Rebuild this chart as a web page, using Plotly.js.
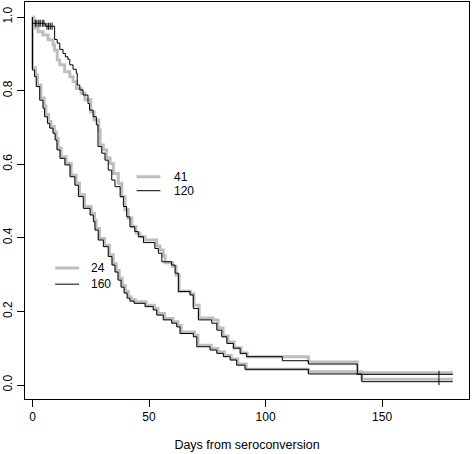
<!DOCTYPE html>
<html><head><meta charset="utf-8">
<script src="https://cdn.plot.ly/plotly-3.0.1.min.js"></script>
<style>html,body{margin:0;padding:0;background:#fff}</style>
</head><body><div id="chart" style="width:472px;height:454px"></div>
<script>
// Kaplan-Meier style step curves (days, survival)
const endTime = 180.4;

const times41 = [0.6, 2.4, 4.5, 6.7, 8.8, 9.5, 10.6, 11.7, 13.8, 16.0, 17.4, 18.8, 20.9, 22.5, 25.0, 26.4, 28.4, 29.0, 30.4, 31.8, 33.3, 34.7, 36.8, 38.3, 39.7, 41.1, 42.6, 44.4, 46.1, 48.3, 53.3, 54.7, 56.1, 56.9, 60.1, 61.6, 62.9, 67.8, 69.3, 71.5, 77.5, 79.6, 81.8, 83.9, 86.5, 89.5, 92.1, 118.4, 139.4];
const surv41 = [0.970, 0.960, 0.951, 0.938, 0.924, 0.910, 0.883, 0.870, 0.851, 0.838, 0.824, 0.806, 0.793, 0.775, 0.742, 0.720, 0.693, 0.652, 0.639, 0.617, 0.602, 0.575, 0.548, 0.512, 0.476, 0.454, 0.430, 0.413, 0.403, 0.394, 0.378, 0.367, 0.351, 0.332, 0.323, 0.299, 0.255, 0.247, 0.217, 0.182, 0.177, 0.155, 0.133, 0.117, 0.101, 0.087, 0.077, 0.0625, 0.0334];

const times120 = [0, 5.5, 9.5, 10.6, 11.7, 13.1, 14.1, 15.2, 16.0, 17.4, 18.8, 19.2, 20.3, 21.7, 23.8, 24.5, 26.0, 27.4, 28.1, 29.7, 31.1, 32.5, 34.0, 35.4, 37.6, 39.0, 40.4, 41.8, 43.9, 45.4, 47.6, 52.5, 54.0, 55.5, 59.7, 61.2, 62.6, 67.6, 69.0, 71.2, 76.9, 79.1, 81.2, 83.4, 86.2, 89.1, 91.9, 107.2, 118.4, 139.4];
const surv120 = [0.983, 0.975, 0.939, 0.929, 0.912, 0.901, 0.892, 0.885, 0.870, 0.858, 0.847, 0.815, 0.802, 0.788, 0.765, 0.747, 0.729, 0.707, 0.648, 0.630, 0.611, 0.584, 0.557, 0.539, 0.512, 0.485, 0.457, 0.430, 0.417, 0.403, 0.387, 0.371, 0.358, 0.335, 0.326, 0.304, 0.254, 0.245, 0.208, 0.177, 0.168, 0.149, 0.131, 0.113, 0.100, 0.086, 0.077, 0.066, 0.057, 0.029];
const censor120 = [1.2, 1.9, 2.7, 3.3, 4.2, 4.9, 6.2, 6.9, 7.6, 8.4, 174.4];

const times24 = [0, 1.3, 2.1, 3.6, 5.0, 5.7, 6.9, 7.9, 9.3, 10.2, 11.0, 12.3, 14.4, 16.6, 18.7, 20.2, 22.3, 25.2, 26.6, 27.3, 28.7, 30.9, 33.0, 34.6, 35.9, 37.2, 38.5, 39.8, 41.1, 42.3, 44.1, 48.8, 52.3, 53.8, 56.6, 60.2, 62.4, 63.8, 69.5, 71.0, 76.7, 79.6, 82.4, 85.3, 88.1, 91.7, 118.4, 141.3];
const surv24 = [0.862, 0.842, 0.815, 0.780, 0.758, 0.735, 0.716, 0.703, 0.688, 0.670, 0.644, 0.620, 0.602, 0.570, 0.548, 0.517, 0.485, 0.467, 0.448, 0.425, 0.398, 0.380, 0.354, 0.330, 0.311, 0.290, 0.270, 0.254, 0.240, 0.232, 0.226, 0.217, 0.208, 0.194, 0.181, 0.172, 0.162, 0.144, 0.135, 0.108, 0.099, 0.090, 0.080, 0.071, 0.057, 0.0427, 0.036, 0.0155];

const times160 = [0, 0.9, 1.6, 3.1, 4.5, 5.2, 6.4, 7.4, 8.8, 9.7, 10.5, 11.8, 13.9, 16.1, 18.2, 19.7, 21.8, 24.7, 26.1, 26.8, 28.2, 30.4, 32.5, 34.1, 35.4, 36.7, 38.0, 39.3, 40.6, 41.8, 43.6, 48.3, 51.8, 53.3, 56.1, 59.7, 61.9, 63.3, 69.0, 70.5, 76.2, 79.1, 81.9, 84.8, 87.6, 91.2, 118.4, 141.3];
const surv160 = [0.856, 0.838, 0.811, 0.774, 0.752, 0.729, 0.711, 0.698, 0.684, 0.666, 0.639, 0.616, 0.598, 0.566, 0.543, 0.512, 0.480, 0.462, 0.444, 0.421, 0.394, 0.376, 0.349, 0.326, 0.307, 0.285, 0.266, 0.250, 0.236, 0.228, 0.222, 0.213, 0.204, 0.190, 0.177, 0.168, 0.158, 0.140, 0.131, 0.104, 0.095, 0.086, 0.077, 0.068, 0.054, 0.0427, 0.030, 0.009];
const censor160 = [174.4];

const xTicks = [0, 50, 100, 150];
const yTicks = [0, 0.2, 0.4, 0.6, 0.8, 1.0];
const yTickText = ['0.0', '0.2', '0.4', '0.6', '0.8', '1.0'];

const GRAY = '#bebebe', BLACK = '#000000';
const FONT = 'Liberation Sans, Arial, sans-serif';

function stepTrace(name, times, surv, color, width) {
  const x = [0].concat(times, [endTime]);
  const y = [1].concat(surv, [surv[surv.length - 1]]);
  return {x, y, name, type: 'scatter', mode: 'lines', line: {shape: 'hv', color, width}, showlegend: false, hoverinfo: 'skip'};
}
function survAt(times, surv, t) {
  let s = 1;
  for (let i = 0; i < times.length; i++) { if (times[i] <= t) s = surv[i]; }
  return s;
}
function censorTrace(times, surv, cts) {
  return {x: cts, y: cts.map(t => survAt(times, surv, t)), type: 'scatter', mode: 'markers', showlegend: false, hoverinfo: 'skip',
    marker: {symbol: 'line-ns-open', size: 5, color: BLACK, line: {color: BLACK, width: 1}}};
}

const data = [
  stepTrace('41', times41, surv41, GRAY, 3),
  stepTrace('24', times24, surv24, GRAY, 3),
  stepTrace('120', times120, surv120, BLACK, 1),
  stepTrace('160', times160, surv160, BLACK, 1),
  censorTrace(times120, surv120, censor120),
  censorTrace(times160, surv160, censor160)
];

// legends (drawn in data coordinates, like R's legend())
const legendA = {x0: 44.7, x1: 54.9, yTop: 0.566, yBot: 0.528, tx: 59.7, labels: ['41', '120']};
const legendB = {x0: 9.7, x1: 20.0, yTop: 0.318, yBot: 0.274, tx: 24.2, labels: ['24', '160']};
const shapes = [], annotations = [];
[legendA, legendB].forEach(L => {
  shapes.push({type: 'line', xref: 'x', yref: 'y', x0: L.x0, x1: L.x1, y0: L.yTop, y1: L.yTop, line: {color: GRAY, width: 3}});
  shapes.push({type: 'line', xref: 'x', yref: 'y', x0: L.x0, x1: L.x1, y0: L.yBot, y1: L.yBot, line: {color: BLACK, width: 1}});
  annotations.push({xref: 'x', yref: 'y', x: L.tx, y: L.yTop, text: L.labels[0], showarrow: false, xanchor: 'left', yanchor: 'middle', font: {family: FONT, size: 12, color: BLACK}});
  annotations.push({xref: 'x', yref: 'y', x: L.tx, y: L.yBot, text: L.labels[1], showarrow: false, xanchor: 'left', yanchor: 'middle', font: {family: FONT, size: 12, color: BLACK}});
});

const layout = {
  width: 472, height: 454,
  margin: {l: 25, r: 3, t: 2, b: 55, pad: 0},
  paper_bgcolor: '#ffffff', plot_bgcolor: '#ffffff',
  font: {family: FONT, size: 12, color: BLACK},
  showlegend: false,
  xaxis: {
    range: [-3.22, 187.3], tickvals: xTicks, ticktext: xTicks.map(String),
    ticks: 'outside', ticklen: 7, tickwidth: 1, tickcolor: BLACK,
    showline: true, mirror: true, linecolor: BLACK, linewidth: 1,
    showgrid: false, zeroline: false,
    tickfont: {family: FONT, size: 12, color: BLACK},
    title: {text: 'Days from seroconversion', font: {family: FONT, size: 12.5, color: BLACK}, standoff: 16}
  },
  yaxis: {
    range: [-0.038, 1.0408], tickvals: yTicks, ticktext: yTickText, tickangle: -90,
    ticks: 'outside', ticklen: 7, tickwidth: 1, tickcolor: BLACK,
    showline: true, mirror: true, linecolor: BLACK, linewidth: 1,
    showgrid: false, zeroline: false,
    tickfont: {family: FONT, size: 12, color: BLACK}
  },
  shapes, annotations
};

Plotly.newPlot('chart', data, layout, {displayModeBar: false, staticPlot: true});
</script></body></html>
